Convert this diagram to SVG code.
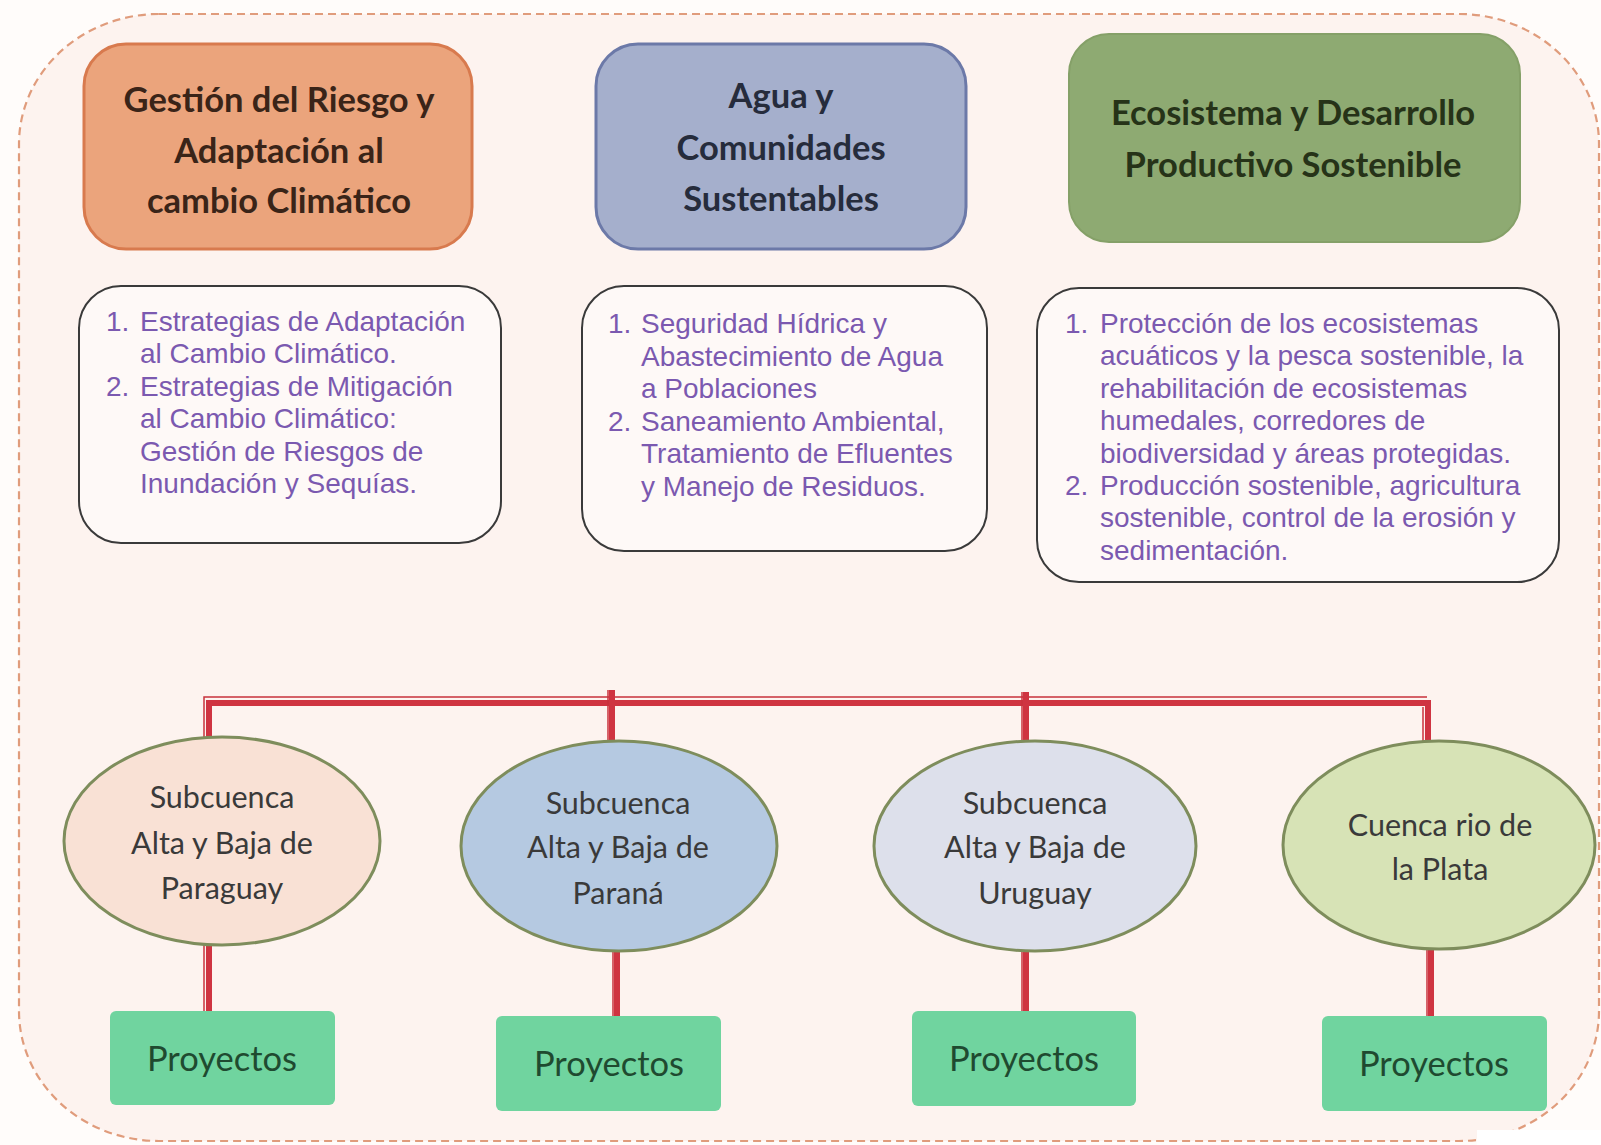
<svg xmlns="http://www.w3.org/2000/svg" width="1601" height="1145" viewBox="0 0 1601 1145">
<style>
.hdr{font-family:Lato,"Open Sans","Liberation Sans",sans-serif;font-weight:bold;font-size:34.5px;text-anchor:middle}
.lst{font-family:"Liberation Sans",Arial,sans-serif;font-size:28px;fill:#7B59B0}
.det{fill:#FEF9F7;stroke:#3A3A3A;stroke-width:2}
.ell{stroke:#7E8D5C;stroke-width:3}
.etx{font-family:Lato,"Open Sans","Liberation Sans",sans-serif;font-size:30.5px;fill:#3A3A3A;text-anchor:middle}
.prj{fill:#70D49F}
.ptx{font-family:Lato,"Open Sans","Liberation Sans",sans-serif;font-size:34.5px;fill:#1F4A30;text-anchor:middle}
.thick{stroke:#CF3441;stroke-width:6;fill:none}
.thin{stroke:#C8323C;stroke-width:1.5;fill:none}
</style>
<rect x="0" y="0" width="1601" height="1145" fill="#FFFCFA"/>
<g id="frame">
<rect x="19" y="14" width="1580" height="1127" rx="140" ry="130" fill="#FDF3EF" stroke="#E09C7C" stroke-width="2.2" stroke-dasharray="8 5"/>
<rect x="1477" y="1130" width="124" height="15" fill="#FFFFFF"/>
</g>
<g id="hdr1">
<rect x="84" y="44" width="388" height="205" rx="42" fill="#EBA47C" stroke="#D87A4E" stroke-width="3"/>
<text class="hdr" fill="#3A2418" x="279" y="112">Gestión del Riesgo y</text>
<text class="hdr" fill="#3A2418" x="279" y="163">Adaptación al</text>
<text class="hdr" fill="#3A2418" x="279" y="213">cambio Climático</text>
</g>
<g id="hdr2">
<rect x="596" y="44" width="370" height="205" rx="42" fill="#A5AFCC" stroke="#6C79A8" stroke-width="3"/>
<text class="hdr" fill="#262C3C" x="781" y="108">Agua y</text>
<text class="hdr" fill="#262C3C" x="781" y="160">Comunidades</text>
<text class="hdr" fill="#262C3C" x="781" y="211">Sustentables</text>
</g>
<g id="hdr3">
<rect x="1069" y="34" width="451" height="208" rx="40" fill="#8EAA72" stroke="#85A068" stroke-width="2"/>
<text class="hdr" fill="#263318" x="1293" y="125">Ecosistema y Desarrollo</text>
<text class="hdr" fill="#263318" x="1293" y="177">Productivo Sostenible</text>
</g>
<g id="det1">
<rect class="det" x="79" y="286" width="422" height="257" rx="42"/>
<text class="lst" x="106" y="331">1.</text>
<text class="lst" x="140" y="331">Estrategias de Adaptación</text>
<text class="lst" x="140" y="363.4">al Cambio Climático.</text>
<text class="lst" x="106" y="395.8">2.</text>
<text class="lst" x="140" y="395.8">Estrategias de Mitigación</text>
<text class="lst" x="140" y="428.2">al Cambio Climático:</text>
<text class="lst" x="140" y="460.6">Gestión de Riesgos de</text>
<text class="lst" x="140" y="493">Inundación y Sequías.</text>
</g>
<g id="det2">
<rect class="det" x="582" y="286" width="405" height="265" rx="42"/>
<text class="lst" x="608" y="333">1.</text>
<text class="lst" x="641" y="333">Seguridad Hídrica y</text>
<text class="lst" x="641" y="365.5">Abastecimiento de Agua</text>
<text class="lst" x="641" y="398">a Poblaciones</text>
<text class="lst" x="608" y="430.5">2.</text>
<text class="lst" x="641" y="430.5">Saneamiento Ambiental,</text>
<text class="lst" x="641" y="463">Tratamiento de Efluentes</text>
<text class="lst" x="641" y="495.5">y Manejo de Residuos.</text>
</g>
<g id="det3">
<rect class="det" x="1037" y="288" width="522" height="294" rx="42"/>
<text class="lst" x="1065" y="333">1.</text>
<text class="lst" x="1100" y="333">Protección de los ecosistemas</text>
<text class="lst" x="1100" y="365.4">acuáticos y la pesca sostenible, la</text>
<text class="lst" x="1100" y="397.8">rehabilitación de ecosistemas</text>
<text class="lst" x="1100" y="430.2">humedales, corredores de</text>
<text class="lst" x="1100" y="462.6">biodiversidad y áreas protegidas.</text>
<text class="lst" x="1065" y="495">2.</text>
<text class="lst" x="1100" y="495">Producción sostenible, agricultura</text>
<text class="lst" x="1100" y="527.4">sostenible, control de la erosión y</text>
<text class="lst" x="1100" y="559.8">sedimentación.</text>
</g>
<g id="connectors">
<path class="thick" d="M209,741 V703 H1428 V743"/>
<path class="thin" d="M204,741 V697 H1427"/>
<path class="thick" d="M612,690 V743"/>
<path class="thin" d="M608,690 V743"/>
<path class="thick" d="M1026,692 V743"/>
<path class="thin" d="M1022,692 V743"/>
<path class="thin" d="M1423,707 V743"/>
<path class="thick" d="M209,945 V1012"/>
<path class="thin" d="M204,945 V1012"/>
<path class="thick" d="M617,952 V1017"/>
<path class="thin" d="M613,952 V1017"/>
<path class="thick" d="M1026,952 V1012"/>
<path class="thin" d="M1022,952 V1012"/>
<path class="thick" d="M1431,950 V1017"/>
<path class="thin" d="M1427,950 V1017"/>
</g>
<g id="ell1">
<ellipse class="ell" cx="222" cy="841" rx="158" ry="104" fill="#F9E1D5"/>
<text class="etx" x="222" y="808">Subcuenca</text>
<text class="etx" x="222" y="854">Alta y Baja de</text>
<text class="etx" x="222" y="899">Paraguay</text>
</g>
<g id="ell2">
<ellipse class="ell" cx="619" cy="846" rx="158" ry="105" fill="#B5C9E1"/>
<text class="etx" x="618" y="814">Subcuenca</text>
<text class="etx" x="618" y="858">Alta y Baja de</text>
<text class="etx" x="618" y="904">Paraná</text>
</g>
<g id="ell3">
<ellipse class="ell" cx="1035" cy="846" rx="161" ry="105" fill="#DDE0EB"/>
<text class="etx" x="1035" y="814">Subcuenca</text>
<text class="etx" x="1035" y="858">Alta y Baja de</text>
<text class="etx" x="1035" y="904">Uruguay</text>
</g>
<g id="ell4">
<ellipse class="ell" cx="1439" cy="845" rx="156" ry="104" fill="#D7E3B6"/>
<text class="etx" x="1440" y="836">Cuenca rio de</text>
<text class="etx" x="1440" y="880">la Plata</text>
</g>
<g id="prj1">
<rect class="prj" x="110" y="1011" width="225" height="94" rx="6"/>
<text class="ptx" x="222" y="1071">Proyectos</text>
</g>
<g id="prj2">
<rect class="prj" x="496" y="1016" width="225" height="95" rx="6"/>
<text class="ptx" x="609" y="1076">Proyectos</text>
</g>
<g id="prj3">
<rect class="prj" x="912" y="1011" width="224" height="95" rx="6"/>
<text class="ptx" x="1024" y="1071">Proyectos</text>
</g>
<g id="prj4">
<rect class="prj" x="1322" y="1016" width="225" height="95" rx="6"/>
<text class="ptx" x="1434" y="1076">Proyectos</text>
</g>
</svg>
